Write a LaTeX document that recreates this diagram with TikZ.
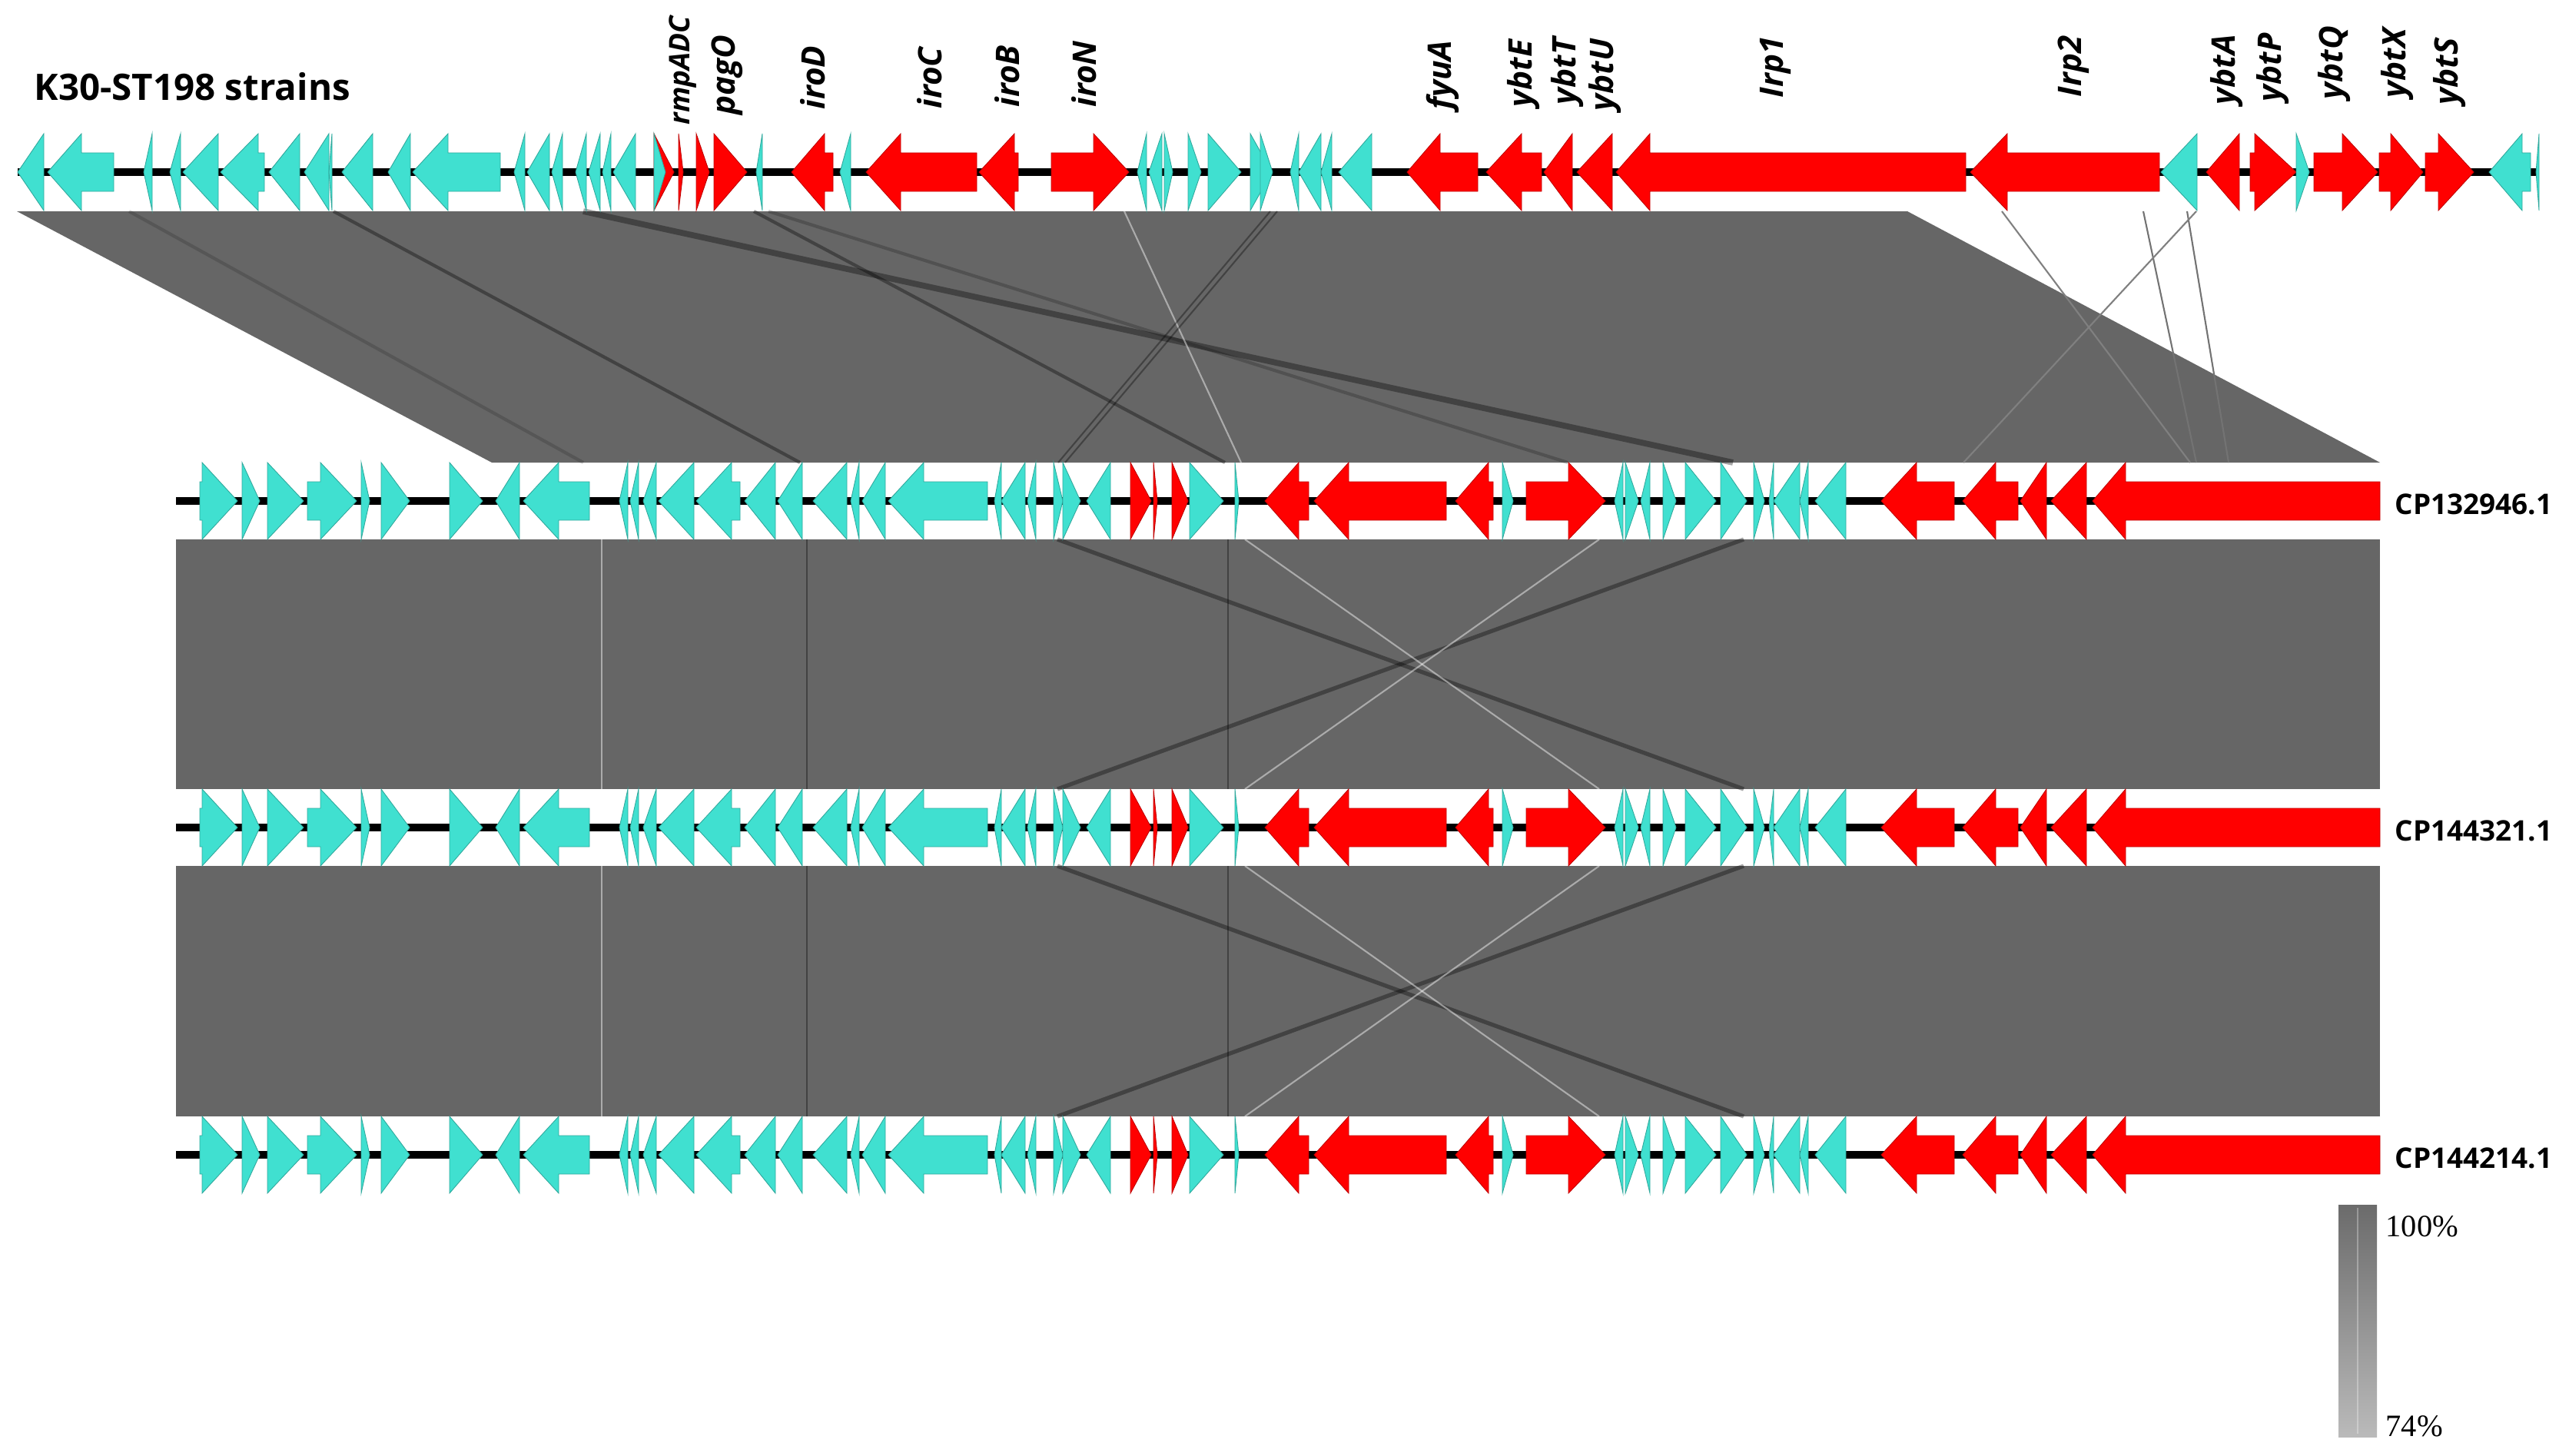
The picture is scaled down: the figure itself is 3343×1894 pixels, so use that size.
\documentclass[tikz,border=0pt]{standalone}
\usepackage{fontspec}
\setmainfont{Liberation Serif}
\newfontfamily\genefont{Open Sans}
\definecolor{cdsblue}{HTML}{40E0D0}
\definecolor{cdsred}{HTML}{FF0000}
\definecolor{hitgray}{HTML}{666666}

\begin{document}
\begin{tikzpicture}[x=0.01cm,y=-0.01cm,
  cds/.style={fill=#1,draw=#1!75!black,line width=0.25pt},
  backbone/.style={line width=1mm,black},
  hit/.style={fill=hitgray},
  darkhit/.style={draw=black,opacity=0.35,line width=1.2pt},
  lighthit/.style={draw=white,opacity=0.45,line width=0.6pt},
  genelabel/.style={font=\genefont\bfseries\itshape\fontsize{12}{13}\selectfont,rotate=90,anchor=west,inner sep=0pt},
  acclabel/.style={font=\genefont\bfseries\fontsize{10.5}{12}\selectfont,anchor=west,inner sep=0pt}]
\fill[white] (0,0) rectangle (3343,1894);
\useasboundingbox (0,0) rectangle (3343,1894);

% blast hits between tracks
\fill[hit] (22,275) -- (2482,275) -- (3097,602) -- (640,602) -- cycle;
\fill[hit] (229,702) rectangle (3097,1027);
\fill[hit] (229,1127) rectangle (3097,1453);

\draw[darkhit,opacity=0.15] (168,275) -- (759,602);
\draw[darkhit] (434,275) -- (1041,602);
\draw[darkhit,line width=2.2pt] (759,275) -- (2255,602);
\draw[darkhit] (981,275) -- (1594,602);
\draw[darkhit,opacity=0.2] (1000,275) -- (2040,602);
\draw[lighthit] (1463,275) -- (1615,602);
\draw[darkhit,line width=0.6pt] (1653,275) -- (1377,602);
\draw[darkhit,line width=0.6pt] (1662,275) -- (1386,602);
\draw[gray,line width=0.6pt] (2605,275) -- (2850,602);
\draw[gray!90!black,line width=0.6pt] (2789,275) -- (2858,602);
\draw[gray!90!black,line width=0.6pt] (2846,275) -- (2900,602);
\draw[gray,line width=0.6pt] (2858,275) -- (2555,602);

\foreach \top/\bot in {702/1027,1127/1453}{
  \draw[lighthit] (783,\top) -- (783,\bot);
  \draw[darkhit,line width=0.6pt] (1050,\top) -- (1050,\bot);
  \draw[darkhit,line width=0.6pt] (1598,\top) -- (1598,\bot);
  \draw[darkhit,line width=1.5pt] (1376,\top) -- (2269,\bot);
  \draw[darkhit,line width=1.5pt] (2269,\top) -- (1376,\bot);
  \draw[lighthit] (1620,\top) -- (2081,\bot);
  \draw[lighthit] (2081,\top) -- (1620,\bot);
}

% query track
\begin{scope}[shift={(0,224)}]
\draw[backbone] (23,0) -- (3304,0);
\foreach \t/\b/\p/\col in {57/57/23/cdsblue, 148/106/62/cdsblue, 198/198/187/cdsblue,
  235/235/221/cdsblue, 284/284/238/cdsblue, 344/336/287/cdsblue, 390/390/350/cdsblue,
  428/428/396/cdsblue, 432/432/428/cdsblue, 485/485/445/cdsblue, 534/534/505/cdsblue,
  651/583/537/cdsblue, 683/683/669/cdsblue, 715/715/686/cdsblue, 732/732/718/cdsblue,
  763/763/749/cdsblue, 781/781/766/cdsblue, 795/795/784/cdsblue, 827/827/798/cdsblue,
  851/851/877/cdsred, 851/851/866/cdsblue, 883/883/889/cdsred, 906/906/923/cdsred,
  929/929/972/cdsred, 992/992/984/cdsblue, 1084/1073/1030/cdsred, 1107/1107/1093/cdsblue,
  1271/1172/1127/cdsred, 1325/1320/1274/cdsred, 1368/1423/1469/cdsred,
  1492/1492/1480/cdsblue, 1512/1512/1495/cdsblue, 1515/1515/1526/cdsblue,
  1546/1546/1563/cdsblue, 1572/1572/1615/cdsblue, 1627/1627/1655/cdsblue,
  1640/1640/1656/cdsblue, 1690/1690/1679/cdsblue, 1719/1719/1690/cdsblue,
  1733/1733/1719/cdsblue, 1785/1785/1742/cdsblue,
  1923/1874/1831/cdsred, 2006/1980/1934/cdsred, 2046/2046/2009/cdsred,
  2098/2098/2052/cdsred, 2558/2147/2103/cdsred, 2810/2612/2564/cdsred,
  2859/2859/2812/cdsblue, 2914/2914/2871/cdsred, 2928/2934/2988/cdsred,
  2988/2988/3005/cdsblue, 3011/3048/3094/cdsred, 3096/3111/3153/cdsred,
  3156/3173/3219/cdsred, 3293/3282/3239/cdsblue, 3304/3304/3300/cdsblue}
  \filldraw[cds=\col] (\t,-25) -- (\b,-25) -- (\b,-50) -- (\p,0) -- (\b,50) -- (\b,25) -- (\t,25) -- cycle;
\end{scope}

\node[acclabel,font=\genefont\bfseries\fontsize{13.5}{15}\selectfont] (query) at (44,113) {K30-ST198 strains};
\node[genelabel,font=\genefont\bfseries\itshape\fontsize{10.5}{12}\selectfont] (lbl-rmpADC) at (889,163) {rmpADC};
\foreach \x/\y/\n in {946/150/pagO, 1058/143/iroD, 1210/142/iroC,
  1311/140/iroB, 1411/140/iroN, 1877/143/fyuA, 1983/140/ybtE, 2040/137/ybtT,
  2089/145/ybtU, 2310/128/Irp1, 2698/127/Irp2, 2897/137/ybtA, 2957/133/ybtP,
  3037/130/ybtQ, 3119/128/ybtX, 3187/137/ybtS}
  \node[genelabel] (lbl-\n) at (\x,\y) {\n};

% subject tracks
\foreach \ty/\acc in {652/CP132946.1, 1077/CP144321.1, 1503/CP144214.1}{
\begin{scope}[shift={(0,\ty)}]
\draw[backbone] (229,0) -- (3097,0);
\foreach \t/\b/\p/\col in {260/263/309/cdsblue, 315/315/338/cdsblue, 348/348/395/cdsblue,
  400/417/464/cdsblue, 470/470/481/cdsblue, 496/496/533/cdsblue, 585/585/628/cdsblue,
  676/676/645/cdsblue, 767/727/681/cdsblue, 817/817/806/cdsblue, 831/831/820/cdsblue,
  854/854/837/cdsblue, 903/903/857/cdsblue, 963/952/906/cdsblue, 1009/1009/969/cdsblue,
  1044/1044/1012/cdsblue, 1102/1102/1058/cdsblue, 1118/1118/1107/cdsblue,
  1152/1152/1122/cdsblue, 1285/1202/1156/cdsblue, 1303/1303/1294/cdsblue,
  1334/1334/1303/cdsblue, 1348/1348/1337/cdsblue, 1371/1371/1383/cdsblue,
  1383/1383/1406/cdsblue, 1445/1445/1414/cdsblue,
  1471/1471/1498/cdsred, 1501/1501/1506/cdsred, 1525/1525/1546/cdsred,
  1548/1548/1592/cdsblue, 1607/1607/1612/cdsblue,
  1703/1690/1646/cdsred, 1882/1755/1710/cdsred, 1943/1937/1894/cdsred,
  1955/1955/1969/cdsblue, 1986/2041/2089/cdsred,
  2112/2112/2101/cdsblue, 2115/2115/2132/cdsblue, 2147/2147/2135/cdsblue,
  2164/2164/2181/cdsblue, 2193/2193/2233/cdsblue, 2239/2239/2273/cdsblue,
  2282/2282/2296/cdsblue, 2308/2308/2302/cdsblue, 2342/2342/2308/cdsblue,
  2353/2353/2342/cdsblue, 2402/2402/2362/cdsblue,
  2543/2494/2448/cdsred, 2626/2597/2554/cdsred, 2663/2663/2629/cdsred,
  2715/2715/2669/cdsred, 3097/2766/2723/cdsred}
  \filldraw[cds=\col] (\t,-25) -- (\b,-25) -- (\b,-50) -- (\p,0) -- (\b,50) -- (\b,25) -- (\t,25) -- cycle;
\node[acclabel] (acc-\acc) at (3116,4) {\acc};
\end{scope}
}

% identity scale
\shade[top color=black!58,bottom color=black!27] (3043,1568) rectangle (3093,1870);
\draw[white,opacity=0.3,line width=0.4pt] (3068,1572) -- (3068,1866);
\node[anchor=west,inner sep=0pt,font=\fontsize{11.5}{13}\selectfont] (id-max) at (3104,1596) {100\%};
\node[anchor=west,inner sep=0pt,font=\fontsize{11.5}{13}\selectfont] (id-min) at (3104,1856) {74\%};
\end{tikzpicture}
\end{document}
